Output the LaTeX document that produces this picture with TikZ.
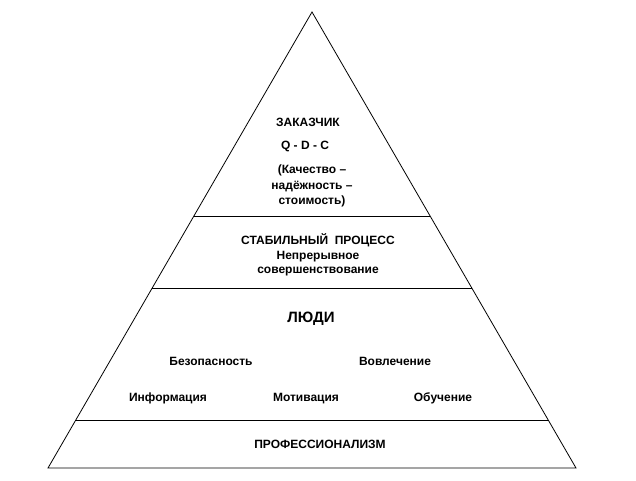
\documentclass[tikz,border=0pt]{standalone}
\usepackage{fontspec}
\setmainfont{Liberation Sans}
\usetikzlibrary{positioning, calc}

\begin{document}
\begin{tikzpicture}[
        x=1pt, y=-1pt,
        tier/.style={font=\bfseries\fontsize{12}{15.5}\selectfont, align=center, inner sep=0pt},
        tierline/.style={tier, anchor=base},
        tiertight/.style={tier, font=\bfseries\fontsize{12}{14.5}\selectfont},
        tierbig/.style={tierline, font=\bfseries\fontsize{15}{16}\selectfont},
        edge/.style={line width=0.8pt},
    ]
        \useasboundingbox (0,0) rectangle (636,480);

        \coordinate (apex)  at (312,12);
        \coordinate (baseL) at (48,468);
        \coordinate (baseR) at (576,468);

        % level boundaries
        \coordinate (cutL1) at ($(baseL)!0.5526!(apex)$);
        \coordinate (cutR1) at ($(baseR)!0.5526!(apex)$);
        \coordinate (cutL2) at ($(baseL)!0.3947!(apex)$);
        \coordinate (cutR2) at ($(baseR)!0.3947!(apex)$);
        \coordinate (cutL3) at ($(baseL)!0.1053!(apex)$);
        \coordinate (cutR3) at ($(baseR)!0.1053!(apex)$);

        \draw[edge] (baseL) -- (apex) -- (baseR) -- cycle;
        \draw[edge] (cutL1) -- (cutR1);
        \draw[edge] (cutL2) -- (cutR2);
        \draw[edge] (cutL3) -- (cutR3);

        \node[tierline] (customer) at (308,126.5) {ЗАКАЗЧИК};
        \node[tierline] (qdc) at (305,149.5) {Q - D - C};
        \node[tier] (qdcnote) at (312,186)
            {(Качество –\\надёжность –\\стоимость)};

        \node[tiertight] (process) at (318,255)
            {СТАБИЛЬНЫЙ\ \ ПРОЦЕСС\\Непрерывное\\совершенствование};

        \node[tierbig] (people) at (311,322.5) {ЛЮДИ};
        \node[tierline] (safety)   at (211,365.5) {Безопасность};
        \node[tierline] (involve)  at (395,365.5) {Вовлечение};
        \node[tierline] (info)     at (168,401.5) {Информация};
        \node[tierline] (motive)   at (306,401.5) {Мотивация};
        \node[tierline] (training) at (443,401.5) {Обучение};

        \node[tierline] (skill) at (320,448.5) {ПРОФЕССИОНАЛИЗМ};
    \end{tikzpicture}
\end{document}
